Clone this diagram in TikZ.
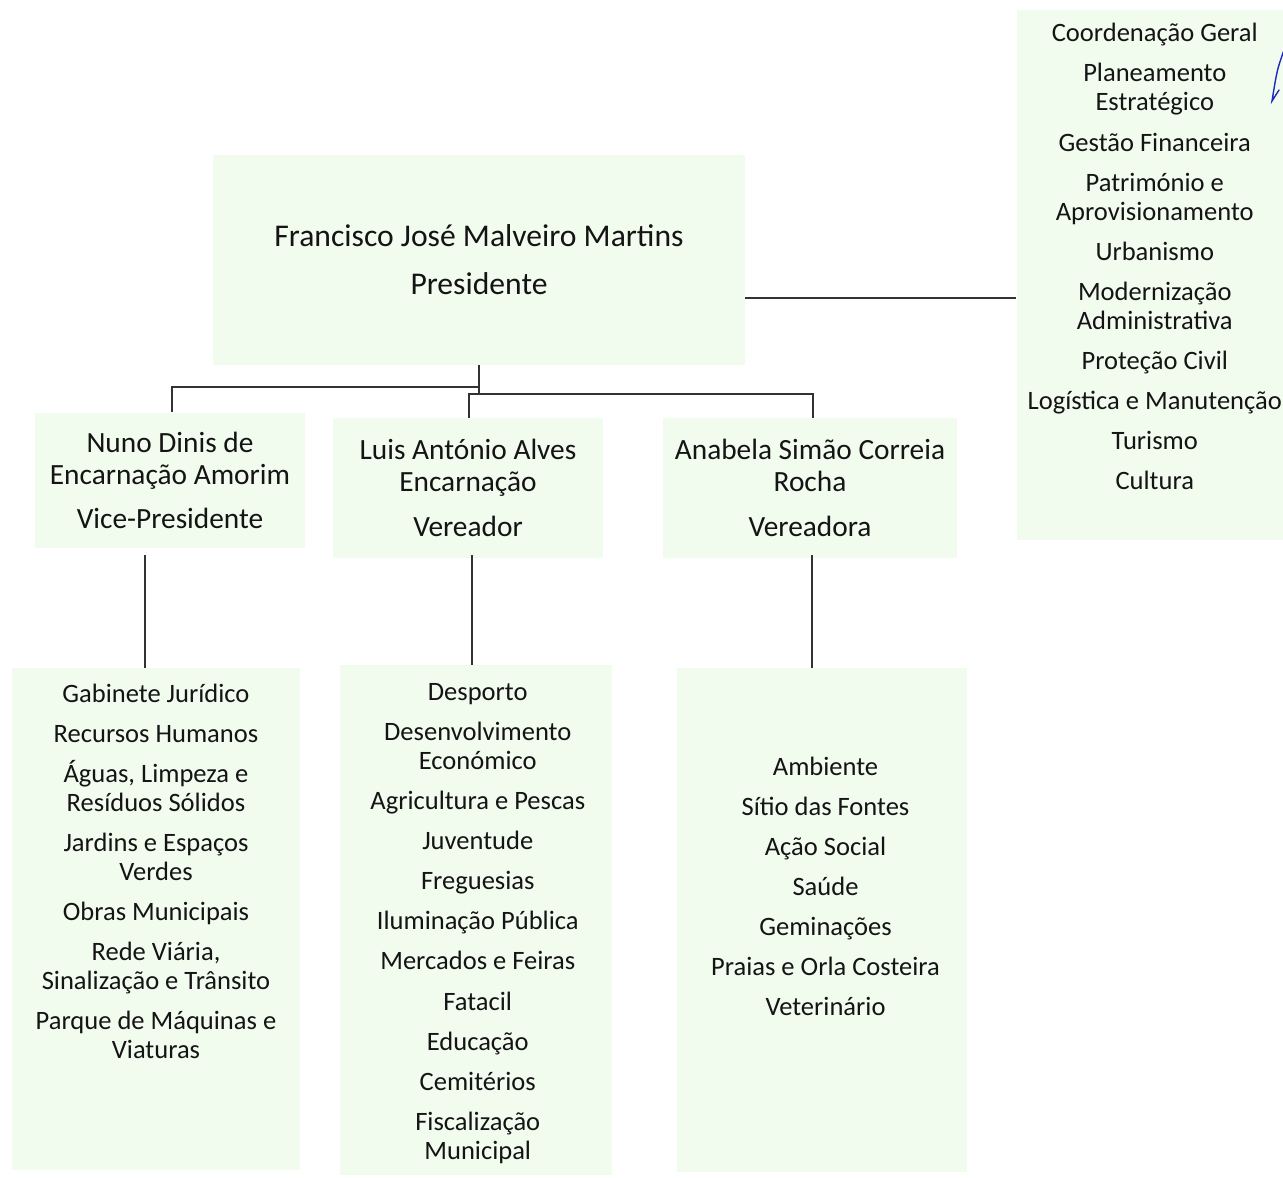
\documentclass[tikz,border=0pt]{standalone}
\usepackage{fontspec}
\setmainfont{Carlito}
\definecolor{unitfill}{RGB}{241,251,238}
\definecolor{linkgrey}{RGB}{50,50,50}
\definecolor{inkblue}{RGB}{30,40,190}
\newcommand{\ngap}{\\[6.3pt]}
\tikzset{
  unit/.style={fill=unitfill, inner sep=0pt},
  link/.style={draw=linkgrey, line width=1.1pt},
  prestext/.style={align=center, text=black!92, font=\fontsize{18}{18.8}\selectfont},
  headtext/.style={align=center, text=black!92, font=\fontsize{16.7}{18.2}\selectfont},
  listtext/.style={align=center, text=black!92, font=\fontsize{15.1}{16.5}\selectfont},
}
\begin{document}
\begin{tikzpicture}[x=0.02cm,y=-0.02cm]
\useasboundingbox (0,0) rectangle (1283,1177);
% president and staff units
\node[unit, prestext, minimum width=10.64cm, minimum height=4.2cm] (pres) at (479,260)
  {Francisco José Malveiro Martins\\[8.5pt]Presidente};
\node[unit, minimum width=5.46cm, minimum height=10.6cm] (staff) at (1153,275) {};
\node[listtext] (stafftxt) at ([xshift=1pt,yshift=10.5pt]staff)
  {Coordenação Geral\ngap Planeamento\\Estratégico\ngap Gestão Financeira\ngap
   Património e\\Aprovisionamento\ngap Urbanismo\ngap Modernização\\Administrativa\ngap
   Proteção Civil\ngap Logística e Manutenção\ngap Turismo\ngap Cultura};
% second row
\node[unit, headtext, minimum width=5.4cm, minimum height=2.7cm] (vp) at (170,480)
  {Nuno Dinis de\\Encarnação Amorim\\[6.8pt]Vice-Presidente};
\node[unit, headtext, minimum width=5.4cm, minimum height=2.8cm] (ver) at (468,488)
  {Luis António Alves\\Encarnação\\[7pt]Vereador};
\node[unit, headtext, minimum width=5.88cm, minimum height=2.8cm] (vera) at (810,488)
  {Anabela Simão Correia\\Rocha\\[7pt]Vereadora};
% areas
\node[unit, minimum width=5.76cm, minimum height=10.04cm] (lbox) at (156,919) {};
\node[listtext] (ltxt) at ([yshift=27pt]lbox)
  {Gabinete Jurídico\ngap Recursos Humanos\ngap Águas, Limpeza e\\Resíduos Sólidos\ngap
   Jardins e Espaços\\Verdes\ngap Obras Municipais\ngap Rede Viária,\\Sinalização e Trânsito\ngap
   Parque de Máquinas e\\Viaturas};
\node[unit, minimum width=5.46cm, minimum height=10.2cm] (mbox) at (476,920) {};
\node[listtext] (mtxt) at ([xshift=1pt,yshift=-2pt]mbox)
  {Desporto\ngap Desenvolvimento\\Económico\ngap Agricultura e Pescas\ngap Juventude\ngap
   Freguesias\ngap Iluminação Pública\ngap Mercados e Feiras\ngap Fatacil\ngap Educação\ngap
   Cemitérios\ngap Fiscalização\\Municipal};
\node[unit, minimum width=5.82cm, minimum height=10.08cm] (rbox) at (822,920) {};
\node[listtext] (rtxt) at ([xshift=2pt,yshift=19pt]rbox)
  {Ambiente\ngap Sítio das Fontes\ngap Ação Social\ngap Saúde\ngap Geminações\ngap
   Praias e Orla Costeira\ngap Veterinário};
% connectors
\coordinate (forka) at (172,387);
\coordinate (forkb) at (469,394);
\coordinate (forkc) at (813,394);
\coordinate (side) at (745,298);
\coordinate (dropa) at (145,555);
\coordinate (dropb) at (472,555);
\coordinate (dropc) at (812,555);
\draw[link] (pres.south) -- (pres.south |- forka) -- (forka) -- (forka |- vp.north);
\draw[link] (pres.south |- forka) -- (pres.south |- forkb) -- (forkb) -- (forkb |- ver.north);
\draw[link] (forkb) -- (forkc) -- (forkc |- vera.north);
\draw[link] (side) -- (side -| staff.west);
\draw[link] (dropa) -- (dropa |- lbox.north);
\draw[link] (dropb) -- (dropb |- mbox.north);
\draw[link] (dropc) -- (dropc |- rbox.north);
% pen mark
\draw[inkblue, line width=0.8pt, line cap=round] (1284,50) .. controls (1277,70) .. (1272,101) -- (1279,90);
\end{tikzpicture}
\end{document}
